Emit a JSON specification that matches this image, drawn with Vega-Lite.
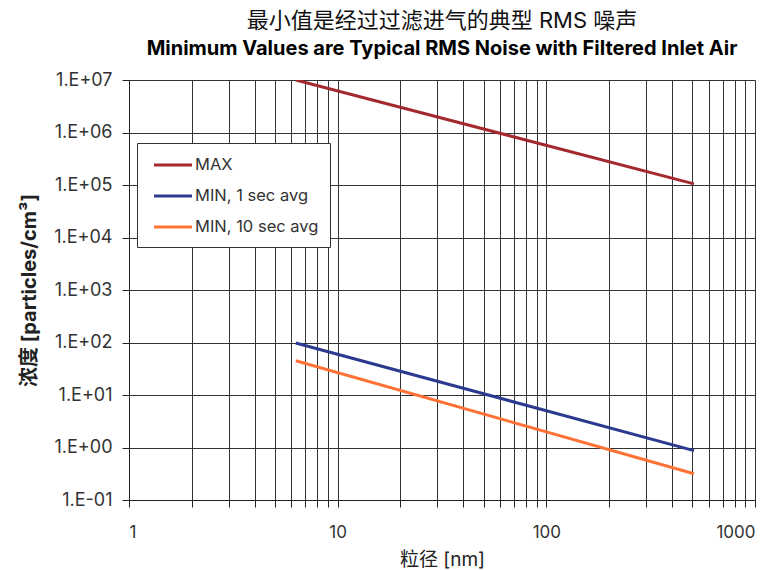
{
  "$schema": "https://vega.github.io/schema/vega-lite/v6.json",
  "autosize": {"type": "none"},
  "width": 626,
  "height": 420,
  "padding": {"left": 129, "top": 80, "right": 27, "bottom": 70},
  "background": "white",
  "title": {
    "text": "最小值是经过过滤进气的典型 RMS 噪声",
    "subtitle": "Minimum Values are Typical RMS Noise with Filtered Inlet Air",
    "anchor": "middle",
    "font": "Inter, Noto Sans CJK SC",
    "fontSize": 22,
    "fontWeight": "normal",
    "color": "#111",
    "subtitleFont": "Inter, Noto Sans CJK SC",
    "subtitleFontSize": 20,
    "subtitleFontWeight": "bold",
    "subtitleColor": "#000",
    "subtitlePadding": 6,
    "offset": 11
  },
  "data": {
    "values": [
      {"series": "MAX", "size": 6.3, "conc": 10000000},
      {"series": "MAX", "size": 510, "conc": 105000},
      {"series": "MIN, 1 sec avg", "size": 6.3, "conc": 98},
      {"series": "MIN, 1 sec avg", "size": 510, "conc": 0.87},
      {"series": "MIN, 10 sec avg", "size": 6.3, "conc": 45},
      {"series": "MIN, 10 sec avg", "size": 510, "conc": 0.316}
    ]
  },
  "mark": {"type": "line", "strokeWidth": 3, "clip": true},
  "encoding": {
    "x": {
      "field": "size",
      "type": "quantitative",
      "scale": {"type": "log", "domain": [1, 1000], "nice": false},
      "axis": {
        "title": "粒径 [nm]",
        "values": [1,2,3,4,5,6,7,8,9,10,20,30,40,50,60,70,80,90,100,200,300,400,500,600,700,800,900,1000],
        "labelExpr": "indexof(['1','10','100','1000'], format(datum.value, 'd')) >= 0 ? format(datum.value, 'd') : ''",
        "tickSize": 7,
        "labelPadding": 17,
        "titlePadding": 10
      }
    },
    "y": {
      "field": "conc",
      "type": "quantitative",
      "scale": {"type": "log", "domain": [0.1, 10000000], "nice": false},
      "axis": {
        "title": "浓度 [particles/cm³]",
        "titleFontWeight": "bold",
        "titleFontSize": 20,
        "values": [0.1, 1, 10, 100, 1000, 10000, 100000, 1000000, 10000000],
        "labelExpr": "'1.E' + (round(log(datum.value)/LN10) < 0 ? '-' : '+') + (abs(round(log(datum.value)/LN10)) < 10 ? '0' : '') + abs(round(log(datum.value)/LN10))",
        "labelFontSize": 18,
        "tickSize": 7,
        "labelPadding": 10,
        "titlePadding": 14
      }
    },
    "color": {
      "field": "series",
      "type": "nominal",
      "scale": {
        "domain": ["MAX", "MIN, 1 sec avg", "MIN, 10 sec avg"],
        "range": ["#a3292e", "#2b3a8f", "#ff7135"]
      },
      "legend": {
        "title": null,
        "orient": "none",
        "legendX": 8,
        "legendY": 63,
        "symbolType": "M-2,0L2,0",
        "symbolSize": 361,
        "symbolStrokeWidth": 3,
        "symbolOffset": 14,
        "labelFontSize": 16.5,
        "labelFont": "Inter, Noto Sans CJK SC",
        "labelColor": "#333",
        "strokeColor": "#333",
        "fillColor": "white",
        "padding": 11,
        "rowPadding": 11,
        "labelOffset": 11
      }
    }
  },
  "config": {
    "view": {"stroke": null},
    "axis": {
      "domainColor": "#222",
      "tickColor": "#222",
      "gridColor": "#333",
      "gridOpacity": 1,
      "grid": true,
      "labelFont": "Inter, Noto Sans CJK SC",
      "labelFontSize": 17,
      "labelColor": "#333",
      "titleFont": "Inter, Noto Sans CJK SC",
      "titleFontSize": 19,
      "titleFontWeight": "normal",
      "titleColor": "#222"
    }
  }
}
